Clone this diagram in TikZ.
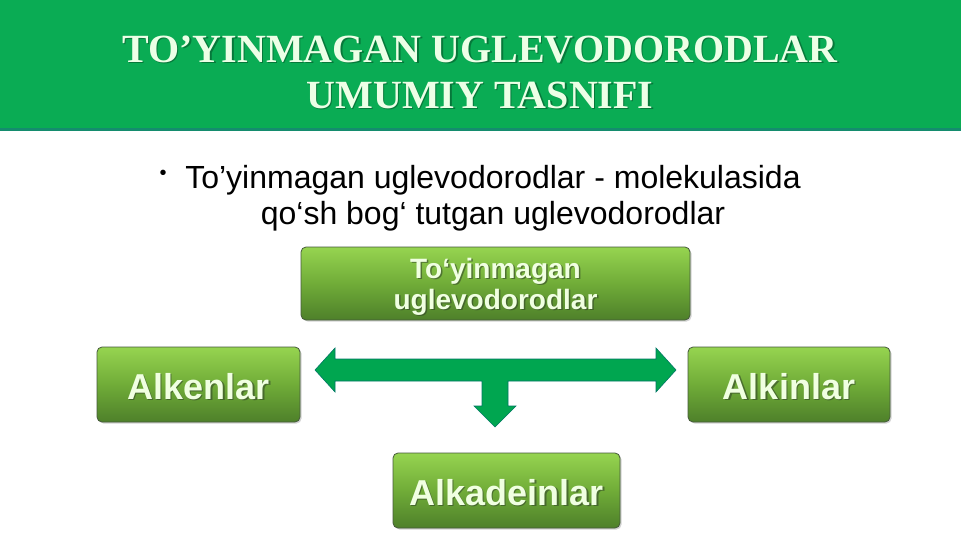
\documentclass[tikz,border=0pt]{standalone}
\usepackage{fontspec}
\setmainfont{Liberation Serif}
\newfontfamily\arialf{Liberation Sans}
\usetikzlibrary{shadows}
\definecolor{hdrgreen}{RGB}{10,172,84}
\definecolor{hdrline}{RGB}{20,140,110}
\definecolor{titletxt}{RGB}{236,255,230}
\definecolor{boxtop}{RGB}{150,212,80}
\definecolor{boxmid}{RGB}{112,172,56}
\definecolor{boxbot}{RGB}{78,128,42}
\definecolor{boxedge}{RGB}{70,90,60}
\definecolor{arrowgreen}{RGB}{0,166,80}
\definecolor{arrowedge}{RGB}{0,120,100}
\definecolor{boxtxt}{RGB}{240,255,225}
\definecolor{txtshadow}{RGB}{50,70,40}
\tikzset{
  gbox/.style={draw=boxedge, line width=0.8pt, rounded corners=5pt,
    top color=boxtop, bottom color=boxbot, middle color=boxmid,
    drop shadow={shadow xshift=1.5pt, shadow yshift=-1.5pt, opacity=0.35}},
  boxlabel/.style={text=boxtxt, align=center},
  shadowlabel/.style={text=txtshadow, align=center, opacity=0.6},
  bigfont/.style={font=\arialf\bfseries\fontsize{36}{42}\selectfont},
}
\begin{document}
\begin{tikzpicture}[x=1pt,y=-1pt]
\useasboundingbox (0,0) rectangle (961,540);
\fill[white] (0,0) rectangle (961,540);
% header
\fill[hdrgreen] (0,0) rectangle (961,130) coordinate (hdr);
\fill[hdrline] (0,128.5) rectangle (961,131);
\node[font=\bfseries\fontsize{40}{46}\selectfont, text=black!60!hdrgreen, opacity=0.5, align=center] (titlesh) at (481.5,73.5)
  {TO’YINMAGAN UGLEVODORODLAR\\UMUMIY TASNIFI};
\node[font=\bfseries\fontsize{40}{46}\selectfont, text=titletxt, align=center] (title) at (480,72)
  {TO’YINMAGAN UGLEVODORODLAR\\UMUMIY TASNIFI};
% bullet
\node[font=\arialf\fontsize{32}{36}\selectfont, align=center, anchor=north] (bullet) at (493,162)
  {To’yinmagan uglevodorodlar - molekulasida\\qo‘sh bog‘ tutgan uglevodorodlar};
\node[font=\arialf\fontsize{20}{20}\selectfont] (dot) at (163,175) {•};
% boxes
\node[gbox, minimum width=389pt, minimum height=73pt] (top) at (495.5,283.5) {};
\node[shadowlabel, font=\arialf\bfseries\fontsize{28}{31}\selectfont] at ([shift={(1.5,4.5)}]top.center) {To‘yinmagan\\uglevodorodlar};
\node[boxlabel, font=\arialf\bfseries\fontsize{28}{31}\selectfont] (toplab) at ([shift={(0,3)}]top.center) {To‘yinmagan\\uglevodorodlar};
\node[gbox, minimum width=203pt, minimum height=75pt] (alken) at (198.5,384.5) {};
\node[shadowlabel, bigfont] at ([shift={(1.5,3.5)}]alken.center) {Alkenlar};
\node[boxlabel, bigfont] (alkenlab) at ([shift={(0,2)}]alken.center) {Alkenlar};
\node[gbox, minimum width=202pt, minimum height=75pt] (alkin) at (789,384.5) {};
\node[shadowlabel, bigfont] at ([shift={(1.5,3.5)}]alkin.center) {Alkinlar};
\node[boxlabel, bigfont] (alkinlab) at ([shift={(0,2)}]alkin.center) {Alkinlar};
\node[gbox, minimum width=227pt, minimum height=75pt] (alkad) at (506.5,490.5) {};
\node[shadowlabel, bigfont] at ([shift={(1.5,3.5)}]alkad.center) {Alkadeinlar};
\node[boxlabel, bigfont] (alkadlab) at ([shift={(0,2)}]alkad.center) {Alkadeinlar};
% T-arrow
\coordinate (L) at (315,370);
\coordinate (R) at (676,370);
\coordinate (D) at (495,427);
\filldraw[fill=arrowgreen, draw=arrowedge, line width=0.6pt, line join=miter]
  (L) -- (335,348) -- (335,359) -- (656,359) -- (656,348) -- (R)
  -- (656,392) -- (656,381) -- (508,381) -- (508,406) -- (516,406)
  -- (D) -- (474,406) -- (482,406) -- (482,381) -- (335,381) -- (335,392) -- cycle;
\end{tikzpicture}
\end{document}
